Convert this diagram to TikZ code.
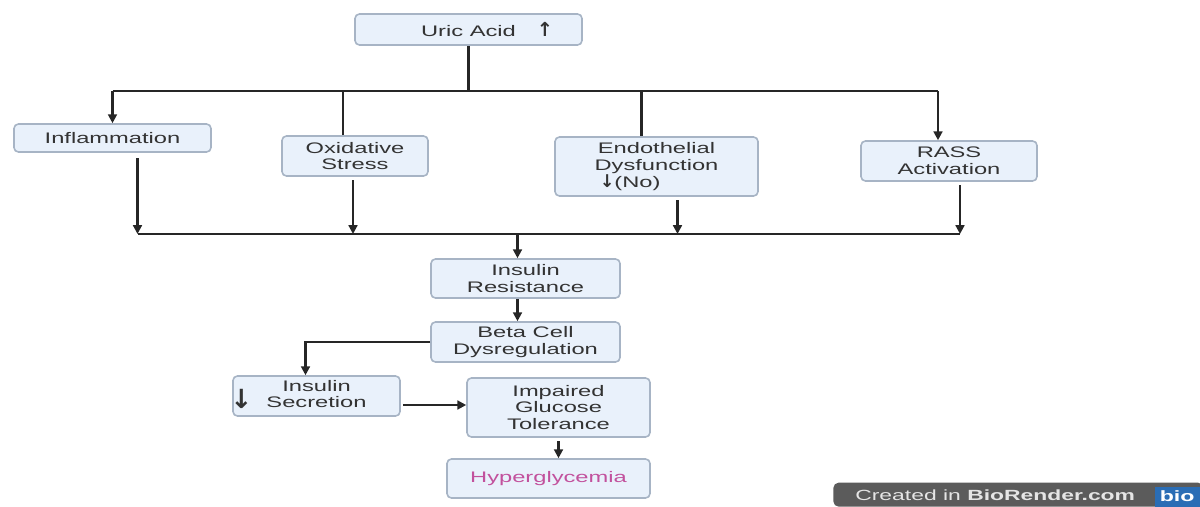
\documentclass[tikz,border=0pt]{standalone}
\usepackage{fontspec}
\setmainfont[FakeStretch=1.55]{Liberation Sans}
\newfontfamily\arrfont{DejaVu Sans}
\usetikzlibrary{arrows.meta,calc}
\definecolor{boxfill}{HTML}{E9F1FB}
\definecolor{boxline}{HTML}{A7B4C5}
\definecolor{hypertext}{HTML}{C2519D}
\definecolor{brgray}{HTML}{5B5B5B}
\definecolor{brblue}{HTML}{2A6DB5}
\newcommand{\bigarr}[2]{{\arrfont\bfseries\fontsize{#1}{#1}\selectfont #2}}

\begin{document}
\begin{tikzpicture}[
    x=0.02cm, y=-0.02cm,
    box/.style = {rectangle, rounded corners=2.5pt, draw=boxline, line width=0.9pt,
                  fill=boxfill, align=center, inner sep=0pt, text=black!80,
                  font=\fontsize{8.7}{9.6}\selectfont},
    link/.style = {line width=1.2pt, black!85},
    arrow/.style = {link, -{Triangle[length=5pt,width=5pt]}}
  ]
    \useasboundingbox (0,0) rectangle (1200,507);
    % top row
    \node[box, minimum width=4.54cm, minimum height=0.62cm] (ua) at (468.5,29.5)
        {Uric Acid\rlap{\hspace{12pt}\bigarr{11}{↑}}};
    \node[box, minimum width=3.94cm, minimum height=0.56cm] (infl) at (112.5,138) {Inflammation};
    \node[box, minimum width=2.92cm, minimum height=0.8cm]  (oxi)  at (355,156) {Oxidative\\Stress};
    \node[box, minimum width=4.06cm, minimum height=1.18cm] (endo) at (656.5,166.5)
        {Endothelial\\Dysfunction\\\bigarr{10}{↓}(No)\makebox[30pt]{}};
    \node[box, minimum width=3.52cm, minimum height=0.8cm]  (rass) at (949,161) {RASS\\Activation};
    % lower chain
    \node[box, minimum width=3.78cm, minimum height=0.78cm] (insres) at (525.5,278.5) {Insulin\\Resistance};
    \node[box, minimum width=3.78cm, minimum height=0.8cm]  (beta)   at (525.5,342) {Beta Cell\\Dysregulation};
    \node[box, minimum width=3.34cm, minimum height=0.8cm]  (insec)  at (316.5,396)
        {\llap{\raisebox{-5pt}{\bigarr{15}{↓}}\hspace{8pt}}\renewcommand{\arraystretch}{0.85}%
         \begin{tabular}{@{}c@{}}Insulin\\Secretion\end{tabular}};
    \node[box, minimum width=3.66cm, minimum height=1.18cm] (igt)    at (558.5,407.5) {Impaired\\Glucose\\Tolerance};
    \node[box, minimum width=4.06cm, minimum height=0.78cm, text=hypertext] (hyper) at (548.5,478.5) {Hyperglycemia};
    % watermark
    \node[fill=brgray, rounded corners=3pt, anchor=south west, minimum width=7.4cm,
          minimum height=0.48cm, inner sep=0pt] (brtag) at (833,507) {};
    \node[fill=brblue, anchor=south east, minimum width=0.9cm, minimum height=0.4cm,
          inner sep=0pt, text=white, font=\fontsize{8.5}{9}\selectfont\bfseries] (brlogo) at (1200,507) {bio};
    \node[anchor=west, text=white!90!black, inner sep=0pt, font=\fontsize{8.4}{9}\selectfont]
        (brtext) at ($(brtag.west)+(22,1)$) {Created in \textbf{BioRender.com}};

    \coordinate (bus) at (0,91);
    \coordinate (join) at (0,234);
    \path (oxi.north) ++(-12,0) coordinate (oxiin);
    \path (endo.north) ++(-15,0) coordinate (endoin);
    \path (rass.north) ++(-11,0) coordinate (rassin);
    \path (infl.south) ++(25,0) coordinate (inflout);
    \path (oxi.south) ++(-2,0) coordinate (oxiout);
    \path (endo.south) ++(21,0) coordinate (endoout);
    \path (rass.south) ++(11,0) coordinate (rassout);
    \path (insres.north) ++(-8,0) coordinate (resin);
    \path (beta.north) ++(-8,0) coordinate (betain);
    \path (insec.north) ++(-11,0) coordinate (secin);
    \path (insec.east) ++(2,9) coordinate (secout);

    \draw[link] (ua.south) -- (ua.south |- bus);
    \draw[link] (infl.north |- bus) -- (rassin |- bus);
    \draw[arrow] (infl.north |- bus) -- (infl.north);
    \draw[link] (oxiin |- bus) -- (oxiin);
    \draw[link] (endoin |- bus) -- (endoin);
    \draw[arrow] (rassin |- bus) -- (rassin);

    \draw[arrow, shorten <=3pt] (inflout) -- (inflout |- join);
    \draw[arrow, shorten <=2pt] (oxiout) -- (oxiout |- join);
    \draw[arrow, shorten <=2pt] (endoout) -- (endoout |- join);
    \draw[arrow, shorten <=2pt] (rassout) -- (rassout |- join);
    \draw[link] (inflout |- join) -- (rassout |- join);
    \draw[arrow] (resin |- join) -- (resin);

    \draw[arrow] (resin |- insres.south) -- (betain);
    \draw[arrow] (beta.west) -| (secin);
    \draw[arrow] (secout) -- (secout -| igt.west);
    \draw[arrow, shorten <=2pt] (igt.south) -- (igt.south |- hyper.north);
  \end{tikzpicture}
\end{document}
